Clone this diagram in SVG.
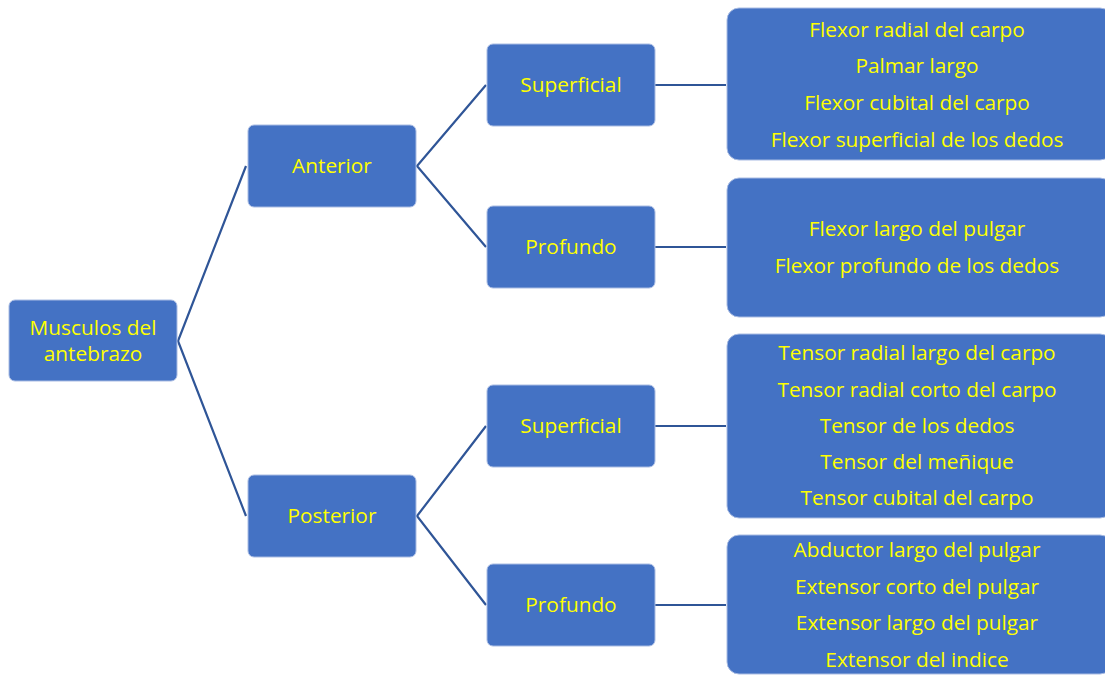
<svg xmlns="http://www.w3.org/2000/svg" width="1105" height="675" viewBox="0 0 1105 675">
<style>
.n{fill:#4472C4;stroke:#A9BCE3;stroke-width:1}
.t{font-family:"Open Sans","Liberation Sans",Arial,sans-serif;font-size:20.8px;fill:#FFFF00;text-anchor:middle}
.c{stroke:#2F5597;stroke-width:2.2;fill:none}
</style>
<rect width="1105" height="675" fill="#fff"/>
<g id="connectors">
<polyline class="c" points="246,166 178,341 246,516"/>
<polyline class="c" points="486,85 417,166 486,247"/>
<polyline class="c" points="486,426 417,516 486,605"/>
<line class="c" x1="655" y1="85" x2="726" y2="85"/>
<line class="c" x1="655" y1="247" x2="726" y2="247"/>
<line class="c" x1="655" y1="426" x2="726" y2="426"/>
<line class="c" x1="655" y1="605" x2="726" y2="605"/>
</g>
<g id="root"><rect class="n" x="9" y="300" width="168" height="81" rx="6"/>
<text class="t" x="93" y="335">Musculos del</text><text class="t" x="93" y="361">antebrazo</text></g>
<g id="anterior"><rect class="n" x="248" y="125" width="168" height="82" rx="6"/>
<text class="t" x="332" y="173">Anterior</text></g>
<g id="posterior"><rect class="n" x="248" y="475" width="168" height="82" rx="6"/>
<text class="t" x="332" y="523">Posterior</text></g>
<g id="ant-superficial"><rect class="n" x="487" y="44" width="168" height="82" rx="6"/>
<text class="t" x="571" y="92">Superficial</text></g>
<g id="ant-profundo"><rect class="n" x="487" y="206" width="168" height="82" rx="6"/>
<text class="t" x="571" y="254">Profundo</text></g>
<g id="post-superficial"><rect class="n" x="487" y="385" width="168" height="82" rx="6"/>
<text class="t" x="571" y="433">Superficial</text></g>
<g id="post-profundo"><rect class="n" x="487" y="564" width="168" height="82" rx="6"/>
<text class="t" x="571" y="612">Profundo</text></g>
<g id="list-ant-sup"><rect class="n" x="727" y="8" width="385" height="152" rx="12"/>
<text class="t" x="917" y="37">Flexor radial del carpo</text>
<text class="t" x="917" y="73">Palmar largo</text>
<text class="t" x="917" y="110">Flexor cubital del carpo</text>
<text class="t" x="917" y="147">Flexor superficial de los dedos</text></g>
<g id="list-ant-prof"><rect class="n" x="727" y="178" width="385" height="139" rx="12"/>
<text class="t" x="917" y="236">Flexor largo del pulgar</text>
<text class="t" x="917" y="273">Flexor profundo de los dedos</text></g>
<g id="list-post-sup"><rect class="n" x="727" y="334" width="385" height="184" rx="12"/>
<text class="t" x="917" y="360">Tensor radial largo del carpo</text>
<text class="t" x="917" y="397">Tensor radial corto del carpo</text>
<text class="t" x="917" y="433">Tensor de los dedos</text>
<text class="t" x="917" y="469">Tensor del meñique</text>
<text class="t" x="917" y="505">Tensor cubital del carpo</text></g>
<g id="list-post-prof"><rect class="n" x="727" y="535" width="385" height="139" rx="12"/>
<text class="t" x="917" y="557">Abductor largo del pulgar</text>
<text class="t" x="917" y="594">Extensor corto del pulgar</text>
<text class="t" x="917" y="630">Extensor largo del pulgar</text>
<text class="t" x="917" y="667">Extensor del indice</text></g>
</svg>
